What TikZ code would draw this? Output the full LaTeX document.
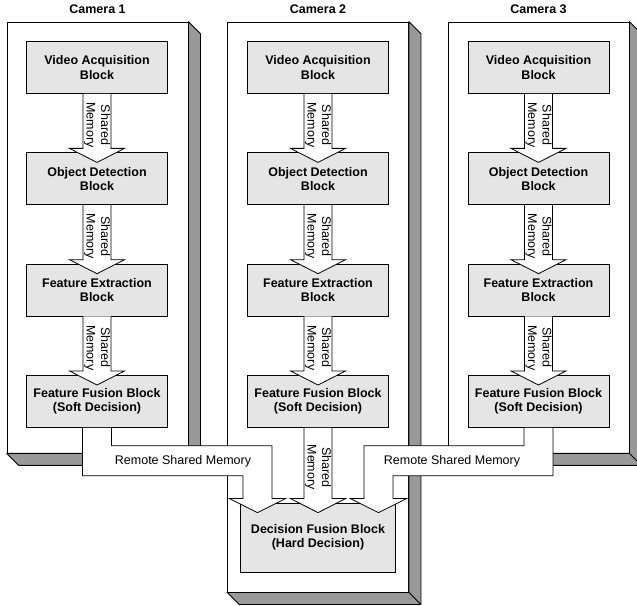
\documentclass[tikz,border=0pt]{standalone}
\usepackage{fontspec}
\setmainfont{Liberation Sans}
\usetikzlibrary{positioning,calc}

% block arrow between two blocks of one camera
\newcommand{\memdown}[2]{%
\draw[memarrow] ($(#1.south)+(-14,0)$) -- ($(#2.north)+(-14,4)$) -- ($(#2.north)+(-27.5,4)$) -- ($(#2.north)+(0,-10)$) -- ($(#2.north)+(27.5,4)$) -- ($(#2.north)+(14,4)$) -- ($(#1.south)+(14,0)$);
\node[memtext] (#1-#2) at ($(#1.south)!0.5!(#2.north)+(0,-2)$) {Shared\\Memory};
}

% grey side faces of a camera box
\newcommand{\camshadow}[1]{%
\draw[sideface] (#1.north east) -- ++(12,-12) -- ($(#1.south east)+(12,-12)$) -- ($(#1.south west)+(12,-12)$) -- (#1.south west) -- (#1.south east) -- cycle;
\draw[line width=0.8pt] (#1.south east) -- ++(12,-12);
}

\begin{document}
\fontsize{12.5}{14.5}\selectfont
\begin{tikzpicture}[x=1pt,y=1pt,line width=0.8pt,node distance=58.5pt,
  camera/.style={draw,fill=white,minimum width=181,inner sep=0},
  sideface/.style={draw,fill=black!40,line join=round},
  camlabel/.style={font=\bfseries,inner sep=0},
  block/.style={draw,fill=black!10,minimum width=141,minimum height=52,align=center,font=\bfseries},
  memarrow/.style={draw,fill=white,line join=miter},
  memtext/.style={rotate=-90,align=center,inner sep=0}]
\useasboundingbox (0,0) rectangle (637,605);

%cameras
\node[camera,minimum height=431] (cam1) at (97.5,367.5) {};
\node[camera,minimum height=570] (cam2) at (318,298) {};
\node[camera,minimum height=431] (cam3) at (538.5,367.5) {};
\camshadow{cam1}
\camshadow{cam2}
\camshadow{cam3}

%labels
\node[camlabel,above=8pt of cam1.north] (lab1) {Camera 1};
\node[camlabel,above=8pt of cam2.north] (lab2) {Camera 2};
\node[camlabel,above=8pt of cam3.north] (lab3) {Camera 3};

%blocks camera 1
\node[block] (va1) at (97,537.5) {Video Acquisition\\Block};
\node[block,below=of va1] (od1) {Object Detection\\Block};
\node[block,below=of od1] (fe1) {Feature Extraction\\Block};
\node[block,below=of fe1] (ff1) {Feature Fusion Block\\(Soft Decision)};

%blocks camera 2
\node[block] (va2) at (318,537.5) {Video Acquisition\\Block};
\node[block,below=of va2] (od2) {Object Detection\\Block};
\node[block,below=of od2] (fe2) {Feature Extraction\\Block};
\node[block,below=of fe2] (ff2) {Feature Fusion Block\\(Soft Decision)};
\node[block,minimum width=155,minimum height=69] (dfb) at (318,67.5) {Decision Fusion Block\\(Hard Decision)};

%blocks camera 3
\node[block] (va3) at (538.5,537.5) {Video Acquisition\\Block};
\node[block,below=of va3] (od3) {Object Detection\\Block};
\node[block,below=of od3] (fe3) {Feature Extraction\\Block};
\node[block,below=of fe3] (ff3) {Feature Fusion Block\\(Soft Decision)};

%shared memory
\memdown{va1}{od1}
\memdown{od1}{fe1}
\memdown{fe1}{ff1}
\memdown{va2}{od2}
\memdown{od2}{fe2}
\memdown{fe2}{ff2}
\memdown{ff2}{dfb}
\memdown{va3}{od3}
\memdown{od3}{fe3}
\memdown{fe3}{ff3}

%remote shared memory
\draw[memarrow] ($(ff1.south)+(-14.5,0)$) -- ($(ff1.south)+(-14.5,-48)$) -| ($(dfb.north)+(-75,4)$) -- ($(dfb.north)+(-88.5,4)$) -- ($(dfb.north)+(-60.5,-10)$) -- ($(dfb.north)+(-32.5,4)$) -- ($(dfb.north)+(-46,4)$) |- ($(ff1.south)+(14.5,-18)$) -- ($(ff1.south)+(14.5,0)$);
\draw[memarrow] ($(ff3.south)+(14.5,0)$) -- ($(ff3.south)+(14.5,-48)$) -| ($(dfb.north)+(75,4)$) -- ($(dfb.north)+(88.5,4)$) -- ($(dfb.north)+(60.5,-10)$) -- ($(dfb.north)+(32.5,4)$) -- ($(dfb.north)+(46,4)$) |- ($(ff3.south)+(-14.5,-18)$) -- ($(ff3.south)+(-14.5,0)$);
\node (rsm1) at ($(ff1.south)+(86,-33)$) {Remote Shared Memory};
\node (rsm2) at ($(ff3.south)+(-86.5,-33)$) {Remote Shared Memory};

\end{tikzpicture}
\end{document}
